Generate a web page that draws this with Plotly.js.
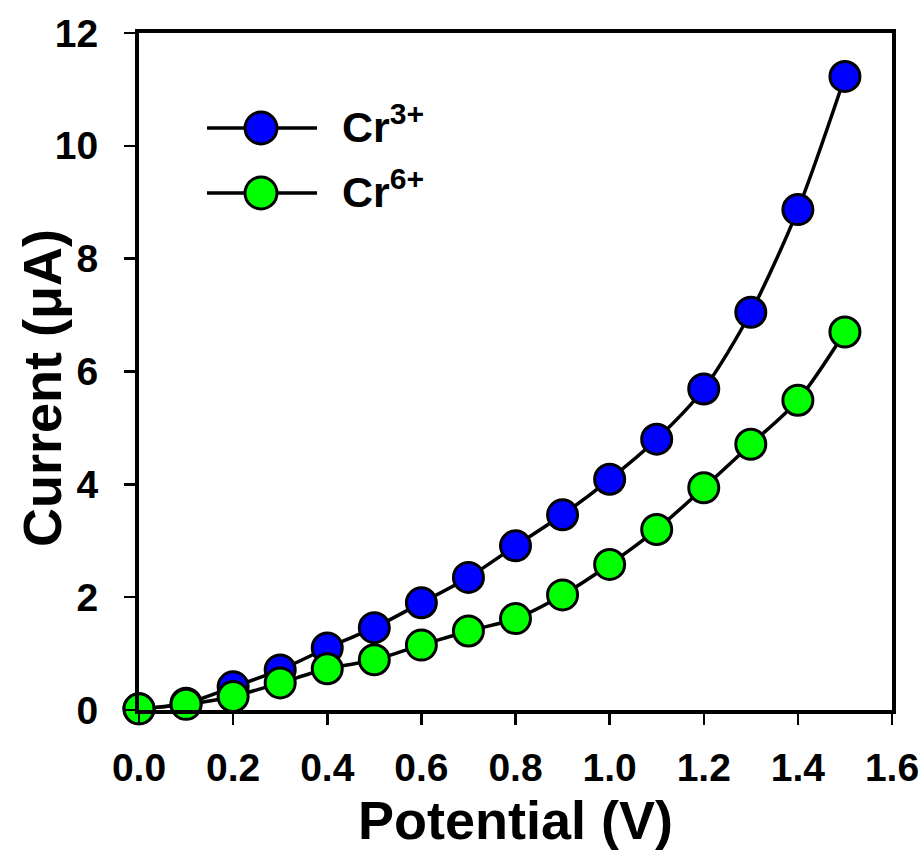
<!DOCTYPE html>
<html>
<head>
<meta charset="utf-8">
<script src="https://cdn.plot.ly/plotly-3.0.1.min.js"></script>
<style>html,body{margin:0;padding:0;background:#fff;}#chart{width:924px;height:857px;}</style>
</head>
<body>
<div id="chart"></div>
<script>
const potential = [0.0, 0.1, 0.2, 0.3, 0.4, 0.5, 0.6, 0.7, 0.8, 0.9, 1.0, 1.1, 1.2, 1.3, 1.4, 1.5];
const cr3 = [0.02, 0.12, 0.41, 0.71, 1.10, 1.46, 1.90, 2.35, 2.91, 3.46, 4.09, 4.80, 5.69, 7.05, 8.87, 11.23];
const cr6 = [0.02, 0.10, 0.24, 0.48, 0.73, 0.89, 1.15, 1.40, 1.62, 2.04, 2.58, 3.20, 3.94, 4.71, 5.49, 6.70];
const seriesNames = ['Cr<sup>3+</sup>', 'Cr<sup>6+</sup>'];
const seriesColors = ['#0000FF', '#00FF00'];
const xTicks = [0.0, 0.2, 0.4, 0.6, 0.8, 1.0, 1.2, 1.4, 1.6];
const yTicks = [0, 2, 4, 6, 8, 10, 12];
const xTitle = 'Potential (V)';
const yTitle = 'Current (μA)';

const W = 924, H = 857;
const M = {l: 139, r: 32, t: 33, b: 147};
const pw = W - M.l - M.r, ph = H - M.t - M.b;
const px = x => (x - M.l) / pw;
const py = y => (H - M.b - y) / ph;

const font = 'Liberation Sans, Arial, sans-serif';

function trace(y, i) {
  return {
    x: potential, y: y, name: seriesNames[i], type: 'scatter', mode: 'lines+markers',
    line: {color: '#000', width: 3.5, shape: 'spline', smoothing: 0.8},
    marker: {color: seriesColors[i], size: 30, line: {color: '#000', width: 3}},
    showlegend: false, cliponaxis: false
  };
}

const shapes = [], annotations = [];
const legendY = [128, 193];
seriesNames.forEach((n, i) => {
  const yy = legendY[i];
  shapes.push({type: 'line', xref: 'paper', yref: 'paper', x0: px(207), x1: px(317), y0: py(yy), y1: py(yy), line: {color: '#000', width: 3.5}});
  shapes.push({type: 'circle', xref: 'paper', yref: 'paper', x0: px(245), x1: px(277), y0: py(yy + 16), y1: py(yy - 16), fillcolor: seriesColors[i], line: {color: '#000', width: 3}});
  annotations.push({xref: 'paper', yref: 'paper', x: px(340), y: py(yy - 4), xanchor: 'left', yanchor: 'middle', text: n, showarrow: false, font: {family: font, size: 43, color: '#000', weight: 'bold'}});
});
annotations.push({xref: 'paper', yref: 'paper', x: px(42), y: py(388), xanchor: 'center', yanchor: 'middle', textangle: -90, text: yTitle, showarrow: false, font: {family: font, size: 54, color: '#000', weight: 'bold'}});

const layout = {
  width: W, height: H, margin: M,
  paper_bgcolor: '#fff', plot_bgcolor: '#fff',
  font: {family: font, color: '#000'},
  xaxis: {
    range: [0, 1.6], tickvals: xTicks, ticktext: xTicks.map(v => v.toFixed(1)),
    ticks: 'outside', ticklen: 11, tickwidth: 2.5, tickcolor: '#000',
    showline: true, linewidth: 4, linecolor: '#000', mirror: true,
    showgrid: false, zeroline: false,
    tickfont: {family: font, size: 39, weight: 'bold'},
    ticklabelstandoff: 9,
    title: {text: xTitle, font: {family: font, size: 54, weight: 'bold'}, standoff: 14}
  },
  yaxis: {
    range: [0, 12], tickvals: yTicks,
    ticks: 'outside', ticklen: 11, tickwidth: 2.5, tickcolor: '#000',
    showline: true, linewidth: 4, linecolor: '#000', mirror: true,
    showgrid: false, zeroline: false,
    tickfont: {family: font, size: 39, weight: 'bold'},
    ticklabelstandoff: 18
  },
  shapes: shapes, annotations: annotations,
  showlegend: false
};

Plotly.newPlot('chart', [trace(cr3, 0), trace(cr6, 1)], layout, {displayModeBar: false, staticPlot: true});
</script>
</body>
</html>
